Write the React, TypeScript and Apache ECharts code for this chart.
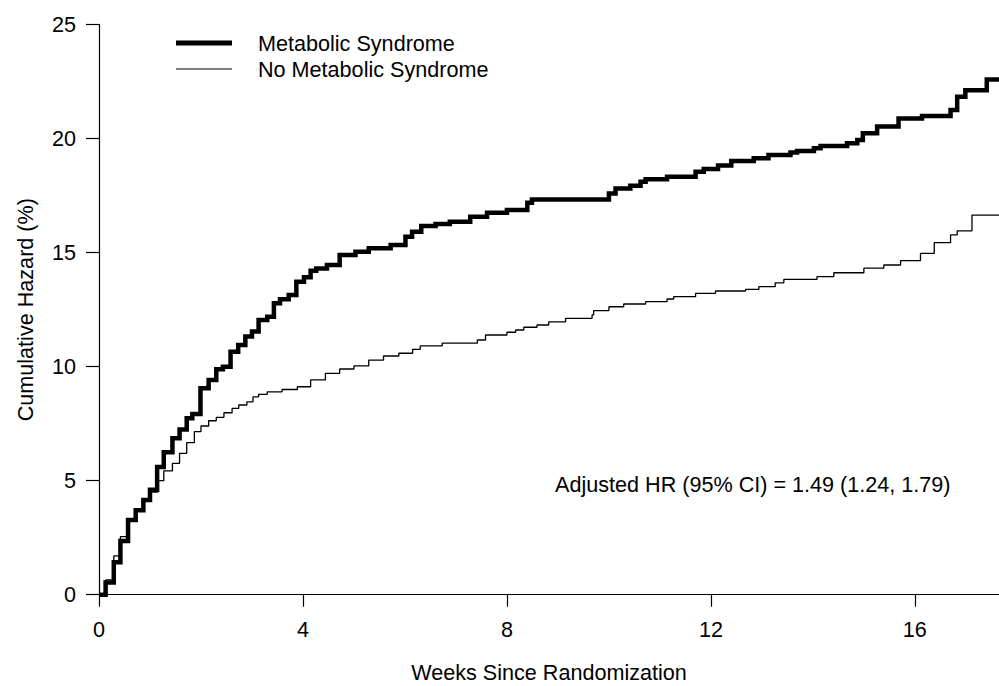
import React, { useEffect, useRef } from "react";
import * as echarts from "echarts";

const seriesNames = ["Metabolic Syndrome", "No Metabolic Syndrome"];

const msWeeks = [0, 0.13, 0.29, 0.42, 0.57, 0.72, 0.87, 1.0, 1.14, 1.27, 1.44, 1.58, 1.72, 1.83, 1.99, 2.15, 2.3, 2.43, 2.58, 2.73, 2.87, 3.0, 3.13, 3.3, 3.43, 3.55, 3.72, 3.87, 4.02, 4.15, 4.26, 4.47, 4.72, 5.03, 5.29, 5.72, 6.01, 6.14, 6.32, 6.6, 6.88, 7.28, 7.61, 8.0, 8.4, 8.49, 10.0, 10.13, 10.42, 10.62, 10.72, 11.14, 11.7, 11.86, 12.14, 12.4, 12.84, 13.13, 13.56, 13.69, 14.02, 14.15, 14.67, 14.87, 14.98, 15.26, 15.68, 16.14, 16.7, 16.83, 16.99, 17.41, 17.65];
const msHazard = [0, 0.53, 1.42, 2.35, 3.28, 3.7, 4.15, 4.6, 5.6, 6.25, 6.86, 7.25, 7.74, 7.93, 9.05, 9.42, 9.89, 10.0, 10.66, 10.95, 11.32, 11.54, 12.05, 12.19, 12.78, 12.96, 13.14, 13.73, 13.92, 14.21, 14.31, 14.46, 14.9, 15.04, 15.19, 15.34, 15.7, 15.92, 16.17, 16.26, 16.36, 16.58, 16.75, 16.87, 17.19, 17.33, 17.6, 17.82, 17.94, 18.11, 18.22, 18.33, 18.55, 18.67, 18.82, 19.02, 19.14, 19.28, 19.39, 19.46, 19.58, 19.68, 19.8, 19.94, 20.24, 20.53, 20.89, 21.0, 21.26, 21.84, 22.13, 22.6, 22.6];

const noMsWeeks = [0, 0.13, 0.29, 0.42, 0.57, 0.72, 0.87, 1.0, 1.15, 1.27, 1.44, 1.58, 1.72, 1.87, 2.0, 2.15, 2.3, 2.45, 2.61, 2.74, 2.9, 3.02, 3.13, 3.3, 3.59, 3.89, 4.15, 4.44, 4.72, 5.0, 5.29, 5.58, 5.88, 6.15, 6.3, 6.73, 7.42, 7.58, 8.0, 8.17, 8.33, 8.59, 8.82, 9.15, 9.67, 9.7, 10.0, 10.29, 10.72, 11.14, 11.27, 11.7, 12.09, 12.68, 12.94, 13.26, 13.43, 14.08, 14.41, 15.0, 15.39, 15.72, 16.11, 16.38, 16.7, 16.83, 17.12, 17.65];
const noMsHazard = [0, 0.65, 1.7, 2.55, 3.3, 3.7, 4.1, 4.5, 5.0, 5.43, 5.76, 6.2, 6.67, 7.15, 7.4, 7.63, 7.78, 7.98, 8.17, 8.32, 8.46, 8.68, 8.79, 8.9, 9.0, 9.12, 9.42, 9.71, 9.9, 10.04, 10.29, 10.47, 10.59, 10.76, 10.91, 11.03, 11.17, 11.39, 11.51, 11.61, 11.73, 11.83, 11.97, 12.12, 12.27, 12.46, 12.63, 12.75, 12.85, 12.97, 13.07, 13.22, 13.32, 13.39, 13.51, 13.68, 13.83, 13.95, 14.12, 14.32, 14.46, 14.65, 14.97, 15.44, 15.78, 15.96, 16.65, 16.65];

const xTicks = [0, 4, 8, 12, 16];
const yTicks = [0, 5, 10, 15, 20, 25];
const xMax = 17.65;
const annotation = "Adjusted HR (95% CI) = 1.49 (1.24, 1.79)";
const xTitle = "Weeks Since Randomization";
const yTitle = "Cumulative Hazard (%)";

const FONT = "'Liberation Sans', Arial, Helvetica, sans-serif";
const FS = 21.6;

export default function App() {
  const ref = useRef<HTMLDivElement>(null);
  useEffect(() => {
    if (!ref.current) return;
    const chart = echarts.init(ref.current, undefined, { renderer: "svg" });
    const zip = (xs: number[], ys: number[]) => xs.map((x, i) => [x, ys[i]]);
    chart.setOption({
      animation: false,
      backgroundColor: "#ffffff",
      textStyle: { fontFamily: FONT, color: "#000" },
      grid: { left: 99, right: 0, top: 24.7, bottom: 91.3, containLabel: false, outerBoundsMode: "none" },
      xAxis: {
        type: "value",
        min: 0,
        max: xMax,
        interval: 4,
        name: xTitle,
        nameLocation: "middle",
        nameGap: 67,
        nameTextStyle: { fontFamily: FONT, fontSize: FS, color: "#000" },
        axisLine: { show: true, onZero: false, lineStyle: { color: "#000", width: 1.2 } },
        axisTick: { show: true, length: 12, lineStyle: { color: "#000", width: 1.2 } },
        axisLabel: {
          fontFamily: FONT,
          fontSize: FS,
          color: "#000",
          margin: 24,
          showMaxLabel: false,
          formatter: (v: number) => (xTicks.includes(v) ? String(v) : ""),
        },
        splitLine: { show: false },
      },
      yAxis: {
        type: "value",
        min: 0,
        max: 25,
        interval: 5,
        name: yTitle,
        nameLocation: "middle",
        nameGap: 63,
        nameRotate: 90,
        nameTextStyle: { fontFamily: FONT, fontSize: FS, color: "#000" },
        axisLine: { show: true, lineStyle: { color: "#000", width: 1.2 } },
        axisTick: { show: true, length: 13, lineStyle: { color: "#000", width: 1.2 } },
        axisLabel: {
          fontFamily: FONT,
          fontSize: FS,
          color: "#000",
          margin: 23,
          formatter: (v: number) => (yTicks.includes(v) ? String(v) : ""),
        },
        splitLine: { show: false },
      },
      graphic: [
        { type: "line", shape: { x1: 176, y1: 43, x2: 232, y2: 43 }, style: { stroke: "#000", lineWidth: 5 } },
        { type: "line", shape: { x1: 176, y1: 69, x2: 232, y2: 69 }, style: { stroke: "#000", lineWidth: 1.2 } },
        { type: "text", x: 258, y: 43, style: { text: seriesNames[0], fontFamily: FONT, fontSize: FS, fill: "#000", verticalAlign: "middle", align: "left" } },
        { type: "text", x: 258, y: 69, style: { text: seriesNames[1], fontFamily: FONT, fontSize: FS, fill: "#000", verticalAlign: "middle", align: "left" } },
        { type: "text", x: 555, y: 484, style: { text: annotation, fontFamily: FONT, fontSize: FS, fill: "#000", verticalAlign: "middle", align: "left" } },
      ],
      series: [
        {
          name: seriesNames[0],
          type: "line",
          step: "end",
          showSymbol: false,
          symbol: "none",
          data: zip(msWeeks, msHazard),
          lineStyle: { color: "#000", width: 4.5, join: "miter" },
          z: 3,
        },
        {
          name: seriesNames[1],
          type: "line",
          step: "end",
          showSymbol: false,
          symbol: "none",
          data: zip(noMsWeeks, noMsHazard),
          lineStyle: { color: "#000", width: 1.3 },
          z: 4,
        },
      ],
    });
    return () => chart.dispose();
  }, []);
  return (
    <div
      ref={ref}
      style={{ position: "fixed", left: 0, top: 0, width: 999, height: 686, background: "#fff" }}
    />
  );
}
